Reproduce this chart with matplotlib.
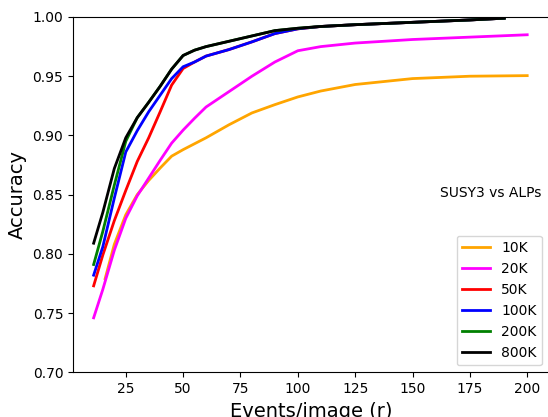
import matplotlib
matplotlib.use("Agg")
import matplotlib.pyplot as plt

labels = ["10K", "20K", "50K", "100K", "200K", "800K"]
colors = ["orange", "magenta", "red", "blue", "green", "black"]

x_10k = [16, 20, 25, 30, 35, 40, 45, 50, 55, 60, 70, 80, 90, 100, 110, 125, 150, 175, 200]
y_10k = [0.779, 0.808, 0.833, 0.850, 0.862, 0.8725, 0.8825, 0.888, 0.893, 0.898, 0.909, 0.919,
         0.926, 0.9325, 0.9375, 0.943, 0.948, 0.950, 0.9505]

x_20k = [11, 15, 20, 25, 30, 35, 40, 45, 50, 55, 60, 70, 80, 90, 100, 110, 125, 150, 175, 200]
y_20k = [0.746, 0.770, 0.803, 0.830, 0.849, 0.864, 0.879, 0.8935, 0.9045, 0.9145, 0.924, 0.937,
         0.950, 0.962, 0.9715, 0.975, 0.978, 0.981, 0.983, 0.985]

x_50k = [11, 15, 20, 25, 30, 35, 40, 45, 50, 55, 60, 70, 80, 90, 100, 110, 125, 150, 175, 190]
y_50k = [0.773, 0.799, 0.828, 0.8535, 0.878, 0.898, 0.920, 0.9425, 0.9565, 0.962, 0.967, 0.9725,
         0.979, 0.986, 0.990, 0.992, 0.9935, 0.9955, 0.9975, 0.999]

x_100k = [11, 15, 20, 25, 30, 35, 40, 45, 50, 55, 60, 70, 80, 90, 100, 110, 125, 150, 175, 190]
y_100k = [0.782, 0.806, 0.847, 0.886, 0.904, 0.920, 0.934, 0.948, 0.958, 0.962, 0.967, 0.9725,
          0.979, 0.986, 0.990, 0.992, 0.9935, 0.9955, 0.9975, 0.999]

x_200k = [11, 15, 20, 25, 30, 35, 40, 45, 50, 55, 60, 70, 80, 90, 100, 110, 125, 150, 175, 190]
y_200k = [0.791, 0.819, 0.858, 0.895, 0.915, 0.928, 0.9415, 0.956, 0.9675, 0.972, 0.975, 0.9795,
          0.984, 0.9885, 0.9905, 0.992, 0.9935, 0.9955, 0.9975, 0.999]

x_800k = [11, 15, 20, 25, 30, 35, 40, 45, 50, 55, 60, 70, 80, 90, 100, 110, 125, 150, 175, 190]
y_800k = [0.809, 0.835, 0.872, 0.898, 0.915, 0.928, 0.9415, 0.956, 0.9675, 0.972, 0.975, 0.9795,
          0.984, 0.9885, 0.9905, 0.992, 0.9935, 0.9955, 0.9975, 0.999]

series = [(x_10k, y_10k), (x_20k, y_20k), (x_50k, y_50k),
          (x_100k, y_100k), (x_200k, y_200k), (x_800k, y_800k)]

fig = plt.figure(figsize=(5.48, 4.17), dpi=100)
ax = fig.add_axes([73 / 548, 44.7 / 417, 476 / 548, 355.3 / 417])

for (xs, ys), lab, col in zip(series, labels, colors):
    ax.plot(xs, ys, color=col, lw=2, label=lab)

ax.set_xlim(2, 209.5)
ax.set_ylim(0.70, 1.00)
ax.set_xticks([25, 50, 75, 100, 125, 150, 175, 200])
ax.set_yticks([0.70, 0.75, 0.80, 0.85, 0.90, 0.95, 1.00])
ax.set_xlabel("Events/image (r)", fontsize=14)
ax.set_ylabel("Accuracy", fontsize=14)
ax.text(162, 0.8514, "SUSY3 vs ALPs", fontsize=10, va="center", ha="left")
ax.legend(loc="lower right", fontsize=10)

fig.savefig("out.png", dpi=100)
